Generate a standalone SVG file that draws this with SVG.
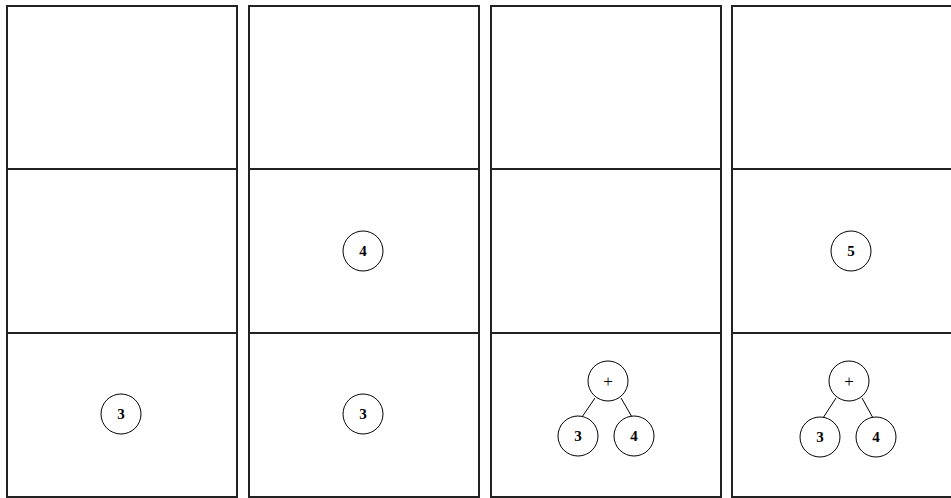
<svg xmlns="http://www.w3.org/2000/svg" width="951" height="498" viewBox="0 0 951 498">
<style>
.panel{fill:#fff;stroke:#222;stroke-width:2}
.div{stroke:#222;stroke-width:2}
.node circle{fill:#fff;stroke:#000;stroke-width:1}
.node text{font-family:"Liberation Serif",serif;font-weight:bold;font-size:15px;text-anchor:middle;dominant-baseline:central;fill:#000}
.node text.op{font-weight:normal;font-size:17px}
.edge{stroke:#000;stroke-width:1}
</style>
<rect width="951" height="498" fill="#fff"/>
<g id="panels">
<rect class="panel" x="7" y="6" width="230" height="491"/>
<rect class="panel" x="249" y="6" width="230" height="491"/>
<rect class="panel" x="491" y="6" width="230" height="491"/>
<rect class="panel" x="732" y="6" width="230" height="491"/>
<line class="div" x1="7" y1="169" x2="237" y2="169"/>
<line class="div" x1="7" y1="333" x2="237" y2="333"/>
<line class="div" x1="249" y1="169" x2="479" y2="169"/>
<line class="div" x1="249" y1="333" x2="479" y2="333"/>
<line class="div" x1="491" y1="169" x2="721" y2="169"/>
<line class="div" x1="491" y1="333" x2="721" y2="333"/>
<line class="div" x1="732" y1="169" x2="962" y2="169"/>
<line class="div" x1="732" y1="333" x2="962" y2="333"/>
</g>
<g id="connectors">
<line class="edge" x1="595" y1="398" x2="582" y2="417"/>
<line class="edge" x1="621" y1="398" x2="632" y2="417"/>
<line class="edge" x1="836" y1="398" x2="823" y2="418"/>
<line class="edge" x1="862" y1="398" x2="873" y2="418"/>
</g>
<g id="p1-n3" class="node"><circle cx="121" cy="414" r="20"/><text x="121" y="414">3</text></g>
<g id="p2-n4" class="node"><circle cx="363" cy="251" r="20"/><text x="363" y="251">4</text></g>
<g id="p2-n3" class="node"><circle cx="363" cy="414" r="20"/><text x="363" y="414">3</text></g>
<g id="p3-plus" class="node"><circle cx="608" cy="381" r="20"/><text class="op" x="608" y="381">+</text></g>
<g id="p3-n3" class="node"><circle cx="578" cy="436" r="20"/><text x="578" y="436">3</text></g>
<g id="p3-n4" class="node"><circle cx="634" cy="436" r="20"/><text x="634" y="436">4</text></g>
<g id="p4-n5" class="node"><circle cx="851" cy="251" r="20"/><text x="851" y="251">5</text></g>
<g id="p4-plus" class="node"><circle cx="849" cy="381" r="20"/><text class="op" x="849" y="381">+</text></g>
<g id="p4-n3" class="node"><circle cx="820" cy="437" r="20"/><text x="820" y="437">3</text></g>
<g id="p4-n4" class="node"><circle cx="876" cy="437" r="20"/><text x="876" y="437">4</text></g>
</svg>
